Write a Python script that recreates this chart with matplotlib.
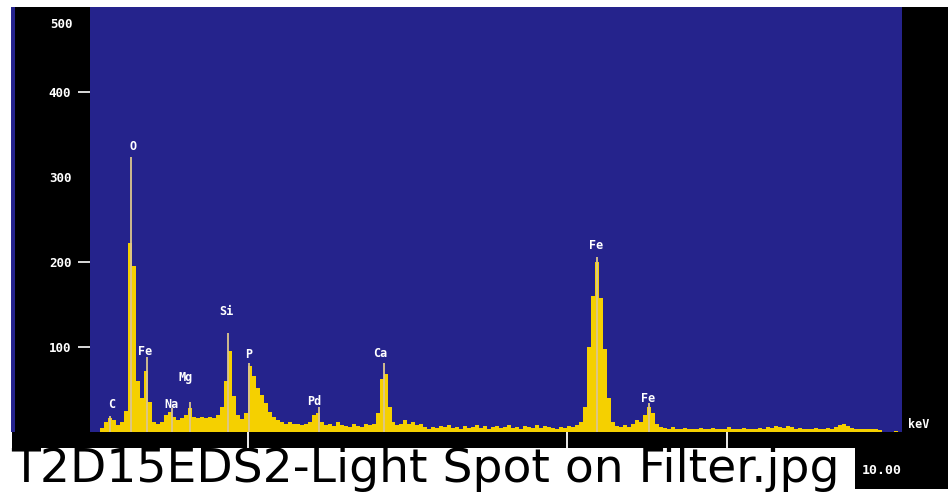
import numpy as np
import matplotlib
matplotlib.use("Agg")
import matplotlib.pyplot as plt
from matplotlib.patches import Rectangle
import matplotlib.transforms as mtransforms

# ---------------- data ----------------
bin_width_kev = 0.05
counts_0 = [0, 0, 0, 5, 12, 16, 14, 8, 12, 25, 222, 195, 60, 40, 72, 35, 12, 10, 12, 20]
counts_1 = [24, 18, 14, 16, 20, 28, 18, 16, 18, 17, 18, 16, 20, 30, 60, 95, 42, 20, 15, 22]
counts_2 = [78, 66, 52, 44, 34, 24, 18, 14, 12, 10, 12, 9, 10, 8, 9, 12, 20, 22, 12, 8]
counts_3 = [10, 7, 12, 8, 7, 6, 9, 7, 6, 10, 8, 9, 22, 62, 68, 30, 12, 8, 10, 14]
counts_4 = [9, 12, 8, 10, 6, 4, 6, 5, 7, 6, 8, 5, 6, 4, 7, 5, 6, 8, 5, 7]
counts_5 = [4, 6, 7, 5, 6, 8, 5, 6, 4, 7, 6, 5, 8, 5, 7, 6, 5, 4, 6, 5]
counts_6 = [7, 6, 8, 12, 30, 100, 160, 200, 158, 98, 40, 12, 7, 6, 8, 6, 10, 14, 12, 20]
counts_7 = [30, 22, 10, 6, 5, 4, 6, 3, 4, 5, 3, 4, 3, 5, 4, 3, 5, 4, 3, 4]
counts_8 = [6, 3, 4, 3, 5, 4, 3, 4, 5, 4, 6, 5, 7, 6, 5, 7, 6, 4, 5, 3]
counts_9 = [4, 3, 5, 4, 3, 5, 4, 6, 8, 10, 7, 5, 4, 3, 4, 3, 4, 3, 2, 0]
counts_10 = [0, 0, 1, 0]

peak_labels = ["C", "O", "Fe", "Na", "Mg", "Si", "P", "Pd", "Ca", "Fe", "Fe"]
peak_energy_kev = [0.27, 0.54, 0.73, 1.05, 1.27, 1.75, 2.01, 2.89, 3.70, 6.38, 7.03]
peak_height = [19, 323, 88, 28, 35, 116, 81, 29, 81, 206, 34]

y_ticks = [100, 200, 300, 400]
y_tick_labels = ["100", "200", "300", "400"]
y_top_label = "500"
x_ticks_kev = [2, 6, 8]
x_end_label = "10.00"
x_unit = "keV"
caption = "T2D15EDS2-Light Spot on Filter.jpg"

counts = np.array(counts_0 + counts_1 + counts_2 + counts_3 + counts_4 + counts_5
                  + counts_6 + counts_7 + counts_8 + counts_9 + counts_10, dtype=float)
edges = np.arange(len(counts) + 1) * bin_width_kev

# ---------------- styling ----------------
BLUE = "#25238C"
YELLOW = "#F5D000"
MARKER = "#DCC68E"
MONO = "DejaVu Sans Mono"

W, H = 948, 493
fig = plt.figure(figsize=(W / 100, H / 100), dpi=100)
fig.patch.set_facecolor("white")

bg = fig.add_axes([0, 0, 1, 1])
bg.set_xlim(0, W)
bg.set_ylim(H, 0)
bg.axis("off")
bg.add_patch(Rectangle((12, 7), W - 12, 441, color="black", lw=0))
bg.add_patch(Rectangle((855, 447), W - 855, 42, color="black", lw=0))
bg.add_patch(Rectangle((11, 7), 4, 425, color=BLUE, lw=0))
bg.text(11, 482, caption, fontsize=34, family="DejaVu Sans", color="black",
        ha="left", va="baseline", zorder=0.5)
bg.text(862, 470, x_end_label, fontsize=9.5, family=MONO, weight="bold",
        color="white", ha="left", va="center")

L, R, T, B = 90, 902, 7, 432
ax = fig.add_axes([L / W, 1 - B / H, (R - L) / W, (B - T) / H])
ax.set_facecolor(BLUE)
ax.stairs(counts, edges, fill=True, color=YELLOW, lw=0)
ax.vlines(peak_energy_kev, 0, peak_height, color=MARKER, lw=1.3)
ax.set_xlim(0.02, 10.2)
ax.set_ylim(0, 500)
for s in ax.spines.values():
    s.set_visible(False)

ax.set_yticks(y_ticks)
ax.set_yticklabels(y_tick_labels, family=MONO, weight="bold")
ax.tick_params(axis="y", colors="white", length=8.5, width=1.2, pad=5,
               labelsize=9, direction="out")
ax.yaxis.get_major_ticks()[2].tick1line.set_visible(False)

ax.set_xticks(x_ticks_kev)
ax.set_xticklabels([])
ax.tick_params(axis="x", colors="white", length=11.5, width=1.3, direction="out")

trans500 = mtransforms.offset_copy(
    mtransforms.blended_transform_factory(ax.transAxes, ax.transData),
    fig=fig, x=-17, y=-18, units="dots")
ax.text(0, 500, y_top_label, transform=trans500, family=MONO, weight="bold",
        fontsize=9, color="white", ha="right", va="center")

ax.text(1.007, 9, x_unit, transform=mtransforms.blended_transform_factory(ax.transAxes, ax.transData),
        family=MONO, weight="bold", fontsize=8.5, color="white", ha="left", va="center")

label_offsets_px = [(2, 11), (1.5, 11), (-2, 6), (-1, 4), (-4, 25), (-2, 22),
                    (0, 9), (-5, 6), (-3, 10), (-1, 11), (-1, 5)]
for lab, e, h, (dx, dy) in zip(peak_labels, peak_energy_kev, peak_height, label_offsets_px):
    ax.annotate(lab, xy=(e, h), xytext=(dx, dy), textcoords="offset pixels",
                ha="center", va="center", color="white", family=MONO,
                weight="bold", fontsize=8.5)

fig.savefig("out.png", dpi=100, facecolor="white")
